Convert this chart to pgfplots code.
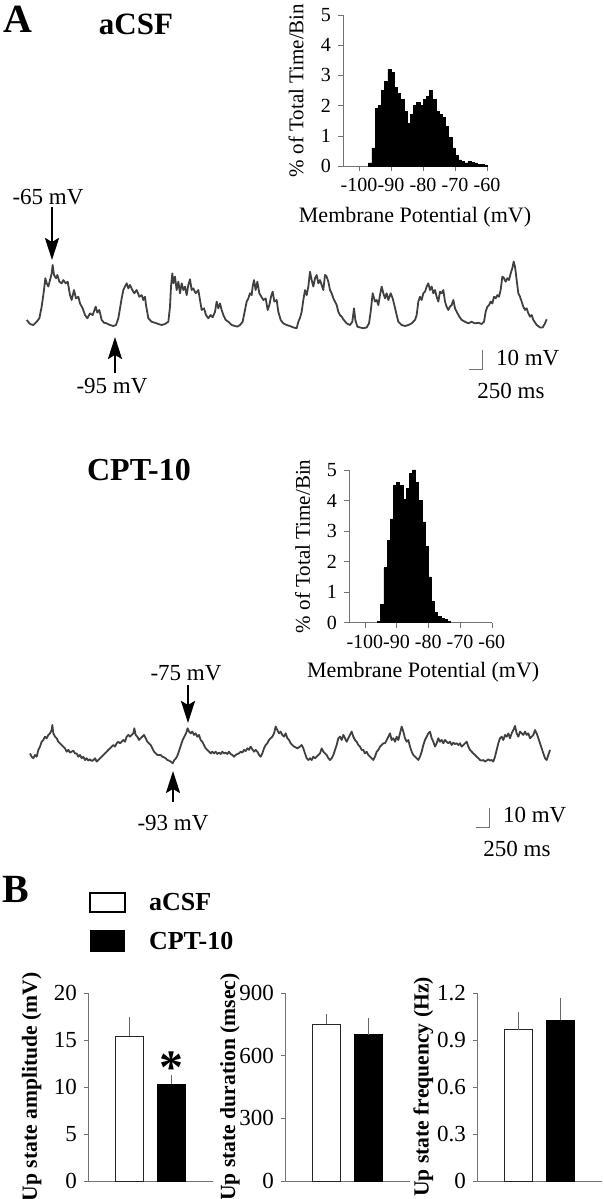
\documentclass[border=0pt]{standalone}
\usepackage{fontspec}
\setmainfont{Liberation Serif}
\usepackage{pgfplots}
\pgfplotsset{compat=1.18}
\usetikzlibrary{arrows.meta}

\pgfplotsset{
  hist/.style={scale only axis, anchor=south west, xmin=-105, xmax=-60, ymin=0, ymax=5,
    axis x line*=bottom, axis y line*=left, axis line style={black!55, line width=0.4pt},
    tick style={black!55}, tick align=outside, major tick length=2.5pt,
    xtick={-100,-90,-80,-70,-60}, xticklabels={-100,-90,-80,-70,-60}, ytick={0,1,2,3,4,5},
    /pgf/number format/assume math mode=true,
    ticklabel style={font=\fontsize{10}{10}\selectfont},
    xticklabel style={inner xsep=0pt},
    xlabel={Membrane Potential (mV)}, ylabel={\% of Total Time/Bin},
    xlabel style={font=\fontsize{11}{11}\selectfont, anchor=center},
    ylabel style={font=\fontsize{10.5}{10.5}\selectfont, anchor=center},
    clip=false},
  trace/.style={scale only axis, anchor=south west, width=302pt, xmin=0, xmax=1812, ymin=-100, ymax=-60, hide axis, clip=false},
  bars/.style={scale only axis, anchor=south west, width=62.5pt, height=94pt, xmin=0, xmax=3,
    axis x line*=bottom, axis y line*=left, axis line style={black!55, line width=0.4pt},
    xtick=\empty, tick style={black!55}, tick align=outside, major tick length=2pt,
    /pgf/number format/assume math mode=true,
    ticklabel style={font=\fontsize{11.5}{11.5}\selectfont},
    ylabel style={font=\bfseries\fontsize{10.8}{10.8}\selectfont, anchor=center},
    ybar, bar width=14pt, bar shift=0pt, clip=false},
  whitebar/.style={fill=white, draw=black!85, line width=0.4pt, error bars/.cd, y dir=plus, y explicit, error mark=none, error bar style={black!60, line width=0.5pt}},
  blackbar/.style={fill=black, draw=black, line width=0.4pt, error bars/.cd, y dir=plus, y explicit, error mark=none, error bar style={black!60, line width=0.5pt}},
}
\tikzset{
  arr/.style={line width=1.1pt, -{Stealth[length=11pt,width=7pt,inset=2pt]}},
  ann/.style={font=\fontsize{11.5}{11.5}\selectfont},
}

\begin{document}
\begin{tikzpicture}
\path[use as bounding box] (0,0) rectangle (302pt,599.5pt);

% ---------------- Histogram aCSF ----------------
\begin{axis}[hist, at={(171.5pt,516.5pt)}, width=72pt, height=75.5pt,
  xlabel style={at={(axis description cs:0.5,-0.338)}},
  ylabel style={at={(axis description cs:-0.325,0.5)}}]
\addplot[fill=black, draw=black, const plot, line width=0.3pt] coordinates {
(-97,0.1) (-96,0.6) (-95,1.9) (-94,2.0) (-93,2.5) (-92,2.8) (-91,3.2) (-90,3.1)
(-89,2.6) (-88,2.4) (-87,2.2) (-86,1.8) (-85,1.4) (-84,1.7) (-83,2.0) (-82,2.1)
(-81,2.0) (-80,2.2) (-79,2.3) (-78,2.5) (-77,2.2) (-76,1.8) (-75,1.7) (-74,1.6)
(-73,1.3) (-72,0.95) (-71,0.6) (-70,0.35) (-69,0.2) (-68,0.15) (-67,0.1) (-66,0.15)
(-65,0.12) (-64,0.1) (-63,0.06) (-62,0.04) (-61,0.03) (-60,0)
} \closedcycle;
\end{axis}

% ---------------- Trace aCSF ----------------
\begin{axis}[trace, at={(0pt,431.4pt)}, height=40.67pt]
\addplot[black!75, line width=0.9pt, mark=none, line join=round] coordinates {
(80,-92.0) (90,-94.0) (100,-94.5) (110,-92.9) (118,-91.2) (125,-85.5) (132,-77.3) (136,-71.5)
(140,-74.0) (145,-75.6) (150,-72.4) (155,-69.1) (158,-65.0) (162,-69.9) (168,-71.5) (172,-69.9)
(178,-73.2) (185,-74.0) (190,-72.4) (197,-74.0) (203,-73.2) (210,-79.8) (215,-82.2) (222,-77.3)
(228,-81.4) (235,-80.6) (240,-83.9) (248,-86.3) (255,-89.6) (262,-91.2) (270,-88.8) (278,-89.6)
(287,-85.5) (292,-88.4) (298,-87.1) (305,-92.0) (312,-93.4) (320,-93.7) (330,-94.5) (340,-95.0)
(348,-94.5) (355,-91.2) (360,-86.3) (365,-81.4) (370,-77.3) (375,-75.6) (380,-74.0) (385,-76.5)
(390,-74.8) (397,-77.3) (403,-78.9) (410,-77.3) (418,-80.6) (425,-79.8) (430,-82.2) (435,-80.6)
(438,-84.7) (445,-91.2) (455,-92.9) (465,-93.4) (475,-94.0) (485,-94.5) (495,-94.0) (505,-92.9)
(510,-85.5) (513,-75.6) (517,-69.1) (520,-74.0) (525,-70.7) (530,-77.3) (535,-73.2) (540,-78.9)
(545,-74.0) (550,-77.3) (555,-75.6) (560,-79.8) (565,-74.8) (570,-72.0) (575,-77.3) (580,-76.5)
(587,-78.9) (595,-77.3) (600,-82.2) (605,-87.1) (612,-86.3) (618,-89.6) (625,-91.2) (632,-89.6)
(638,-90.7) (645,-88.0) (650,-83.0) (655,-86.3) (660,-83.9) (665,-87.1) (670,-89.6) (677,-92.0)
(685,-92.9) (695,-94.5) (705,-95.0) (712,-95.3) (720,-94.5) (728,-92.9) (735,-87.1) (740,-83.0)
(745,-81.4) (750,-78.9) (755,-79.8) (758,-75.6) (762,-72.4) (767,-77.3) (772,-73.2) (778,-78.9)
(784,-80.6) (790,-82.2) (797,-81.4) (803,-87.1) (808,-84.7) (813,-80.6) (818,-78.1) (823,-83.0)
(830,-82.2) (835,-88.0) (842,-92.0) (850,-93.7) (860,-94.5) (870,-95.0) (880,-95.7) (890,-96.1)
(895,-92.9) (900,-91.0) (905,-88.0) (910,-82.2) (915,-77.3) (920,-79.8) (925,-75.6) (930,-68.3)
(935,-72.4) (940,-75.6) (945,-71.5) (950,-69.9) (955,-74.0) (960,-72.4) (965,-74.8) (970,-77.3)
(975,-69.9) (980,-70.7) (985,-73.2) (990,-77.3) (995,-78.9) (1000,-81.4) (1005,-83.0) (1010,-84.7)
(1015,-88.0) (1020,-89.6) (1025,-90.4) (1030,-91.7) (1040,-93.7) (1050,-94.5) (1057,-92.9) (1062,-86.3)
(1066,-92.0) (1072,-95.3) (1080,-95.7) (1090,-96.1) (1100,-95.7) (1107,-93.7) (1112,-88.0) (1118,-78.9)
(1125,-83.0) (1130,-82.2) (1135,-84.7) (1140,-79.8) (1145,-75.6) (1150,-78.9) (1155,-81.4) (1160,-78.9)
(1165,-82.2) (1172,-78.9) (1178,-81.4) (1183,-84.7) (1190,-89.6) (1195,-92.9) (1205,-94.5) (1215,-95.0)
(1225,-94.5) (1235,-93.7) (1245,-92.0) (1250,-89.6) (1255,-83.0) (1260,-80.6) (1265,-82.2) (1270,-78.9)
(1275,-78.1) (1280,-75.6) (1285,-74.0) (1290,-77.3) (1295,-75.6) (1300,-78.9) (1305,-77.3) (1310,-80.6)
(1315,-83.0) (1320,-78.1) (1325,-78.9) (1330,-77.3) (1335,-83.0) (1340,-85.5) (1345,-87.1) (1350,-85.5)
(1355,-84.7) (1360,-82.2) (1365,-86.3) (1370,-88.0) (1378,-90.4) (1385,-92.0) (1395,-92.9) (1405,-93.7)
(1415,-92.9) (1425,-93.7) (1435,-93.4) (1445,-94.0) (1452,-92.9) (1457,-88.0) (1462,-85.5) (1467,-84.7)
(1472,-83.0) (1477,-83.9) (1482,-80.6) (1487,-81.4) (1492,-79.8) (1497,-80.6) (1502,-77.3) (1507,-70.7)
(1512,-71.5) (1517,-73.2) (1522,-71.5) (1527,-72.4) (1532,-69.1) (1537,-66.6) (1541,-63.3) (1545,-65.8)
(1550,-72.4) (1555,-78.9) (1560,-80.6) (1565,-83.0) (1570,-85.5) (1575,-87.1) (1580,-86.3) (1585,-88.8)
(1590,-90.4) (1595,-89.6) (1600,-92.0) (1610,-94.5) (1620,-95.7) (1628,-95.7) (1635,-93.7) (1640,-91.7)
};
% scale bar (250 ms, 10 mV)
\draw[black!55, line width=0.5pt] (axis cs:1407,-116.6) -- (axis cs:1446,-116.6) -- (axis cs:1446,-106.6);
\end{axis}

% ---------------- Histogram CPT-10 ----------------
\begin{axis}[hist, at={(174.5pt,288.15pt)}, width=71.35pt, height=76.35pt,
  xlabel style={at={(axis description cs:0.52,-0.323)}},
  ylabel style={at={(axis description cs:-0.325,0.5)}}]
\addplot[fill=black, draw=black, const plot, line width=0.3pt] coordinates {
(-96,0.05) (-95,0.6) (-94,1.8) (-93,2.7) (-92,3.4) (-91,4.5) (-90,4.6) (-89,4.5)
(-88,4.05) (-87,4.4) (-86,4.9) (-85,5.0) (-84,4.6) (-83,4.0) (-82,3.3) (-81,2.5)
(-80,1.5) (-79,0.7) (-78,0.35) (-77,0.2) (-76,0.15) (-75,0.1) (-74,0.05) (-73,0)
} \closedcycle;
\end{axis}

% ---------------- Trace CPT-10 ----------------
\begin{axis}[trace, at={(0pt,211.03pt)}, height=38.9pt]
\addplot[black!75, line width=0.9pt, mark=none, line join=round] coordinates {
(90,-87.9) (95,-89.6) (100,-90.4) (105,-88.7) (110,-89.6) (115,-86.1) (120,-84.4) (125,-81.9)
(130,-81.0) (135,-79.3) (140,-80.1) (145,-78.4) (150,-77.6) (155,-75.9) (157,-73.3) (160,-77.6)
(165,-79.3) (170,-80.1) (175,-81.9) (180,-82.7) (185,-83.6) (190,-84.4) (195,-85.3) (200,-87.0)
(205,-86.1) (210,-87.5) (215,-87.0) (220,-86.5) (225,-87.9) (230,-87.9) (235,-89.6) (240,-88.7)
(245,-90.4) (250,-89.6) (255,-91.3) (260,-90.4) (265,-91.6) (270,-90.9) (275,-91.8) (280,-91.3)
(285,-90.4) (290,-92.1) (295,-91.3) (300,-90.4) (305,-89.6) (310,-88.7) (315,-87.9) (320,-87.0)
(325,-86.1) (330,-85.3) (335,-84.4) (340,-83.6) (345,-84.4) (350,-82.7) (355,-81.9) (360,-82.7)
(365,-81.9) (370,-81.0) (375,-81.9) (380,-79.3) (385,-78.4) (390,-79.3) (395,-78.4) (400,-77.6)
(403,-75.0) (407,-78.4) (412,-79.3) (417,-81.0) (422,-80.1) (427,-79.3) (432,-78.4) (437,-80.1)
(442,-81.9) (447,-82.7) (452,-83.6) (457,-85.3) (462,-87.0) (467,-87.9) (472,-88.7) (477,-88.7)
(482,-88.7) (487,-89.6) (492,-89.9) (497,-90.4) (502,-91.3) (507,-91.6) (512,-92.1) (518,-93.0)
(523,-91.3) (528,-90.4) (533,-88.7) (538,-86.1) (543,-83.6) (548,-81.0) (553,-79.3) (558,-77.6)
(563,-75.0) (567,-76.7) (572,-77.6) (577,-76.7) (582,-78.4) (587,-77.6) (592,-79.3) (597,-78.4)
(602,-81.0) (607,-81.9) (612,-83.6) (617,-85.3) (622,-86.1) (627,-87.0) (632,-87.9) (637,-87.0)
(642,-87.9) (647,-87.0) (652,-88.2) (657,-87.5) (662,-88.2) (667,-87.0) (672,-87.9) (677,-87.5)
(682,-88.2) (687,-87.0) (692,-88.2) (697,-88.7) (702,-89.6) (707,-88.7) (712,-88.2) (717,-87.9)
(722,-87.0) (727,-87.5) (732,-86.1) (737,-86.7) (742,-85.3) (747,-86.1) (752,-84.4) (757,-85.8)
(762,-87.0) (767,-86.1) (772,-87.0) (777,-88.7) (782,-89.6) (787,-87.9) (792,-85.3) (797,-83.6)
(802,-82.7) (807,-81.0) (812,-80.1) (817,-79.3) (822,-77.6) (827,-74.1) (832,-75.9) (837,-77.6)
(842,-76.7) (847,-78.4) (852,-79.3) (857,-77.6) (862,-80.1) (867,-81.0) (872,-82.7) (877,-83.6)
(882,-84.4) (887,-84.8) (892,-85.3) (900,-84.4) (905,-83.6) (910,-85.3) (915,-87.9) (920,-90.4)
(925,-91.3) (930,-90.4) (935,-91.3) (940,-89.6) (945,-90.4) (950,-89.6) (955,-88.7) (960,-87.9)
(965,-85.3) (970,-87.0) (975,-87.9) (980,-88.7) (985,-90.4) (990,-91.3) (995,-90.4) (1000,-88.7)
(1005,-86.1) (1010,-83.6) (1015,-80.1) (1020,-79.3) (1025,-81.0) (1030,-78.4) (1035,-80.1) (1040,-81.9)
(1045,-80.1) (1050,-78.4) (1055,-76.7) (1060,-79.3) (1065,-81.0) (1070,-81.9) (1075,-83.6) (1080,-84.4)
(1085,-86.1) (1090,-86.1) (1095,-87.9) (1100,-87.0) (1105,-88.7) (1110,-89.6) (1115,-90.4) (1120,-91.3)
(1125,-89.6) (1130,-87.0) (1135,-86.1) (1140,-84.4) (1145,-83.6) (1150,-82.7) (1155,-82.7) (1160,-81.0)
(1165,-79.3) (1170,-77.6) (1175,-81.0) (1180,-80.1) (1185,-81.9) (1190,-79.3) (1195,-81.0) (1200,-77.6)
(1205,-74.1) (1210,-76.7) (1215,-80.1) (1220,-81.9) (1225,-81.0) (1230,-84.4) (1235,-87.0) (1240,-88.7)
(1245,-89.6) (1250,-90.4) (1255,-91.3) (1260,-89.6) (1265,-87.0) (1270,-83.6) (1275,-81.0) (1280,-79.3)
(1285,-77.6) (1290,-76.7) (1295,-80.1) (1300,-81.9) (1305,-84.4) (1310,-82.7) (1315,-80.1) (1320,-81.9)
(1325,-81.0) (1330,-82.7) (1335,-81.0) (1340,-81.9) (1345,-82.7) (1350,-81.9) (1355,-83.6) (1360,-82.4)
(1365,-83.1) (1370,-82.7) (1375,-83.6) (1380,-82.7) (1385,-84.4) (1390,-83.6) (1395,-82.7) (1400,-81.9)
(1405,-84.4) (1410,-86.1) (1415,-87.0) (1420,-87.9) (1425,-88.7) (1430,-89.6) (1435,-90.4) (1440,-91.3)
(1445,-91.6) (1450,-91.3) (1455,-92.1) (1460,-91.6) (1465,-90.9) (1470,-91.6) (1475,-91.3) (1480,-92.1)
(1485,-89.6) (1490,-86.1) (1495,-82.7) (1500,-80.1) (1505,-79.3) (1510,-81.0) (1515,-78.4) (1520,-79.3)
(1525,-77.6) (1530,-80.1) (1535,-77.6) (1540,-75.9) (1545,-73.8) (1550,-77.6) (1555,-79.3) (1560,-76.7)
(1565,-77.6) (1570,-78.4) (1575,-76.7) (1580,-78.4) (1585,-77.6) (1590,-80.1) (1595,-79.3) (1600,-78.4)
(1605,-75.9) (1610,-77.6) (1615,-80.1) (1620,-82.7) (1625,-85.3) (1630,-87.9) (1635,-90.4) (1640,-91.3)
(1645,-88.7) (1650,-86.1)
};
\draw[black!55, line width=0.5pt] (axis cs:1428,-126.2) -- (axis cs:1467,-126.2) -- (axis cs:1467,-116.2);
\end{axis}

% ---------------- Bar charts ----------------
\begin{axis}[bars, at={(44pt,9pt)}, ymin=0, ymax=20, ytick={0,5,10,15,20},
  ylabel={Up state amplitude (mV)}, ylabel style={at={(axis description cs:-0.45,0.5)}}]
\addplot[whitebar] coordinates {(1,15.4) +- (0,2.0)};
\addplot[blackbar] coordinates {(2,10.3) +- (0,1.0)};
\node[font=\bfseries\fontsize{24}{24}\selectfont, inner sep=0pt] at (axis cs:2,12.1) {*};
\end{axis}

\begin{axis}[bars, at={(142.5pt,9pt)}, ymin=0, ymax=900, ytick={0,300,600,900},
  ylabel={Up state duration (msec)}, ylabel style={at={(axis description cs:-0.44,0.5)}}]
\addplot[whitebar] coordinates {(1,752) +- (0,49)};
\addplot[blackbar] coordinates {(2,701) +- (0,79)};
\end{axis}

\begin{axis}[bars, at={(238.5pt,9pt)}, ymin=0, ymax=1.2, ytick={0,0.3,0.6,0.9,1.2},
  ylabel={Up state frequency (Hz)}, ylabel style={at={(axis description cs:-0.43,0.5)}}]
\addplot[whitebar] coordinates {(1,0.965) +- (0,0.113)};
\addplot[blackbar] coordinates {(2,1.025) +- (0,0.143)};
\end{axis}

% ---------------- Annotations (pixel grid, y up) ----------------
\begin{scope}[x=0.5pt, y=0.5pt]
\node[font=\bfseries\fontsize{20}{20}\selectfont] at (18,1180) {A};
\node[font=\bfseries\fontsize{15.5}{15.5}\selectfont] at (136,1175) {aCSF};
\node[ann] at (48,1002) {-65 mV};
\draw[arr] (52,992) -- (52,939);
\draw[arr] (115,826) -- (115,862);
\node[ann] at (112,813) {-95 mV};
\node[ann, anchor=west] at (489,841) {10 mV};
\node[ann] at (511,808) {250 ms};

\node[font=\bfseries\fontsize{16}{16}\selectfont] at (139,729) {CPT-10};
\node[ann] at (186,526) {-75 mV};
\draw[arr] (188,514) -- (188,476);
\draw[arr] (173,397) -- (173,428);
\node[ann] at (173,376) {-93 mV};
\node[ann, anchor=west] at (496,384) {10 mV};
\node[ann] at (517,350) {250 ms};

\node[font=\bfseries\fontsize{20}{20}\selectfont] at (16,310) {B};
\draw[black, line width=0.7pt] (90,287) rectangle (125,306);
\fill[black] (90,247) rectangle (125,269);
\node[font=\bfseries\fontsize{13}{13}\selectfont, anchor=west] at (142,297) {aCSF};
\node[font=\bfseries\fontsize{13}{13}\selectfont, anchor=west] at (142,258) {CPT-10};
\end{scope}
\end{tikzpicture}
\end{document}
